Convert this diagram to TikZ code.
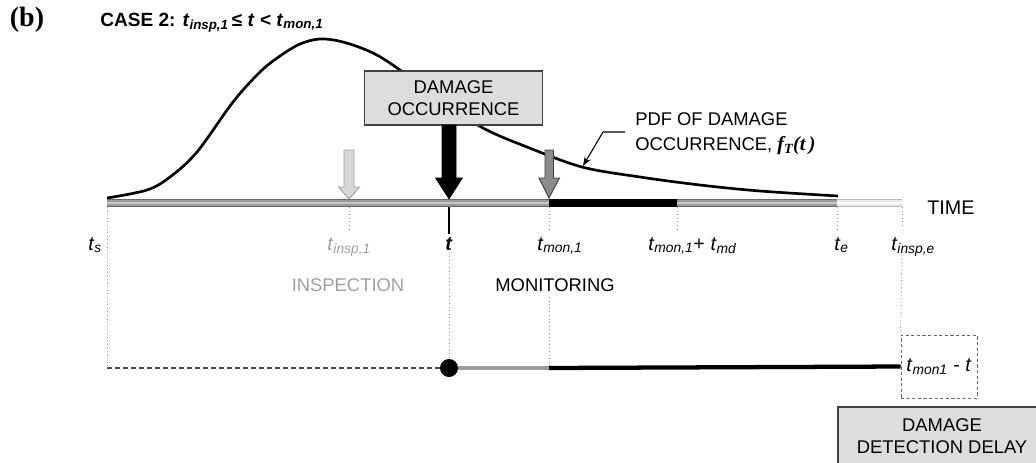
\documentclass[tikz,border=0pt]{standalone}
\usepackage{fontspec}
\setmainfont{Liberation Sans}
\newfontfamily\timesfont{Liberation Serif}
\usetikzlibrary{arrows.meta, calc, positioning}
\definecolor{boxgray}{RGB}{221,221,221}
\definecolor{edgegray}{RGB}{64,64,64}
\definecolor{axisdark}{RGB}{105,105,105}
\definecolor{axismid}{RGB}{155,155,155}
\definecolor{axislight}{RGB}{200,200,200}
\definecolor{axispale}{RGB}{185,185,185}
\definecolor{inspgray}{RGB}{160,160,160}
\definecolor{inspfill}{RGB}{215,215,215}
\definecolor{mongray}{RGB}{140,140,140}
\definecolor{guidegray}{RGB}{150,150,150}
\newcommand{\tsub}[1]{\textit{t}\textsubscript{\textit{#1}}}

\begin{document}
\begin{tikzpicture}[
    x=0.75pt, y=-0.75pt,
    labelbox/.style={rectangle, draw=edgegray, fill=boxgray, line width=0.9pt, align=center, inner sep=0pt, font=\fontsize{13.8}{16.5}\selectfont},
    tlabel/.style={anchor=base west, inner sep=0pt, font=\fontsize{14.8}{17}\selectfont},
    plainlabel/.style={inner sep=0pt, font=\fontsize{13.8}{16}\selectfont},
    guide/.style={guidegray, dotted, line width=0.7pt},
    pointer/.style={-{Stealth[length=7pt, width=5pt]}, line width=0.8pt}
]
\useasboundingbox (0,0) rectangle (1036,462);

% Tick positions on the time axis
\coordinate (ts) at (107,203);
\coordinate (tinsp) at (349,203);
\coordinate (tdmg) at (449,203);
\coordinate (tmon) at (549,203);
\coordinate (tmd) at (677,203);
\coordinate (te) at (837,203);
\coordinate (tinspe) at (902,203);
\coordinate (pdfhit) at (583,166);

% PDF curve
\draw[line width=2pt] plot[smooth, tension=0.55] coordinates {(107,198) (147,190) (170,177) (197,152) (233,102) (260,72) (280,56) (300,44) (320,39) (343,42) (373,53) (400,70) (440,100) (483,128) (527,147) (582,167) (640,177) (700,185) (760,191) (838,196)};

% Time axis
\foreach \w/\c in {6pt/axisdark, 4pt/axismid, 1.5pt/axislight}
  \draw[line width=\w, \c] (ts) -- (te);
\foreach \w/\c in {6pt/axispale, 3.8pt/axislight!40, 1.5pt/white}
  \draw[line width=\w, \c] (te) -- (tinspe);
\draw[line width=6pt] (tmon) -- (tmd);

% Title
\node[font=\timesfont\bfseries\fontsize{21}{22}\selectfont, inner sep=0pt] (panel) at (27,20) {(b)};
\node[anchor=base west, inner sep=0pt, font=\bfseries\fontsize{14.3}{16}\selectfont] (title) at (100,26) {CASE 2: \tsub{insp,1}\,≤ \textit{t} < \tsub{mon,1}};

% Boxes
\node[labelbox, minimum width=133pt, minimum height=40.5pt] (dmgocc) at (453.5,98) {DAMAGE\\OCCURRENCE};
\node[labelbox, minimum width=156pt, minimum height=43.5pt] (dddbox) at (942,436) {DAMAGE\\DETECTION DELAY};
\node[draw=edgegray!80, dash pattern=on 2.4pt off 1.8pt, line width=0.7pt, minimum width=57pt, minimum height=47.25pt, inner sep=0pt, font=\fontsize{14.8}{17}\selectfont] (delaybox) at (939,366.5) {\tsub{mon1} - \textit{t}};

% Arrows onto the axis
\draw[draw=inspgray, fill=inspfill, line width=0.7pt] (344,150) -- (354,150) -- (354,187) -- (359.5,187) -- (349,199) -- (338.5,187) -- (344,187) -- cycle;
\draw[draw=edgegray, fill=mongray, line width=0.7pt] (545,150) -- (553.5,150) -- (553.5,178) -- (559.5,178) -- (549,198) -- (539,178) -- (545,178) -- cycle;
\draw[fill=black] (442,125) -- (456,125) -- (456,178) -- (462.5,178) -- (449,199) -- (435.5,178) -- (442,178) -- cycle;

% PDF label
\node[anchor=west, align=left, inner sep=0pt, font=\fontsize{13.8}{18.75}\selectfont] (pdflab) at (635,134) {PDF OF DAMAGE\\OCCURRENCE, {\timesfont\bfseries\itshape\fontsize{15}{18.75}\selectfont f\textsubscript{T}(t\,)}};
\draw[pointer] ($(pdflab.west)+(-10,-2)$) -- ++(-22,0) -- (pdfhit);

% Axis labels
\node[tlabel] (lts) at (88,250) {\tsub{s}};
\node[tlabel, text=inspgray] (ltinsp) at (327,250) {\tsub{insp,1}};
\node[tlabel, anchor=base] (ltdmg) at (449,250) {\textbf{\textit{t}}};
\node[tlabel] (ltmon) at (537,250) {\tsub{mon,1}};
\node[tlabel] (ltmd) at (648,250) {\tsub{mon,1}+ \tsub{md}};
\node[tlabel] (lte) at (834,250) {\tsub{e}};
\node[tlabel] (ltinspe) at (891,250) {\tsub{insp,e}};
\node[tlabel] (ltime) at (927,214) {TIME};
\node[plainlabel, text=inspgray] (linsp) at (348,285) {INSPECTION};
\node[plainlabel] (lmon) at (555,285) {MONITORING};

% Damage detection delay line
\node[circle, fill=black, minimum size=13.5pt, inner sep=0pt] (dmgdot) at (449,368) {};
\draw[edgegray!90, line width=1.5pt, dash pattern=on 3.5pt off 2.5pt] (107,368) -- (dmgdot.west);
\draw[axismid, line width=3pt] (dmgdot.east) -- (549,368);
\draw[line width=3.2pt] (549,368) -- (delaybox.west);

% Guide lines
\draw[guide] ($(ts)+(0,4)$) -- ++(0,161);
\draw[guide] ($(tinsp)+(0,4)$) -- ++(0,22);
\draw[line width=2.2pt] ($(tdmg)+(0,4)$) -- ++(0,27);
\draw[guide] ($(tdmg)+(0,46)$) -- (dmgdot.north);
\draw[guide] ($(tmon)+(0,4)$) -- ++(0,24);
\draw[guide] ($(tmon)+(0,94)$) -- ($(tmon)+(0,163)$);
\draw[guide] ($(tmd)+(0,4)$) -- ++(0,24);
\draw[guide] ($(te)+(0,4)$) -- ++(0,22);
\draw[guide] ($(tinspe)+(0,4)$) -- ++(0,20);
\draw[guide] ($(tinspe)+(0,52)$) -- (delaybox.north west);
\end{tikzpicture}
\end{document}
